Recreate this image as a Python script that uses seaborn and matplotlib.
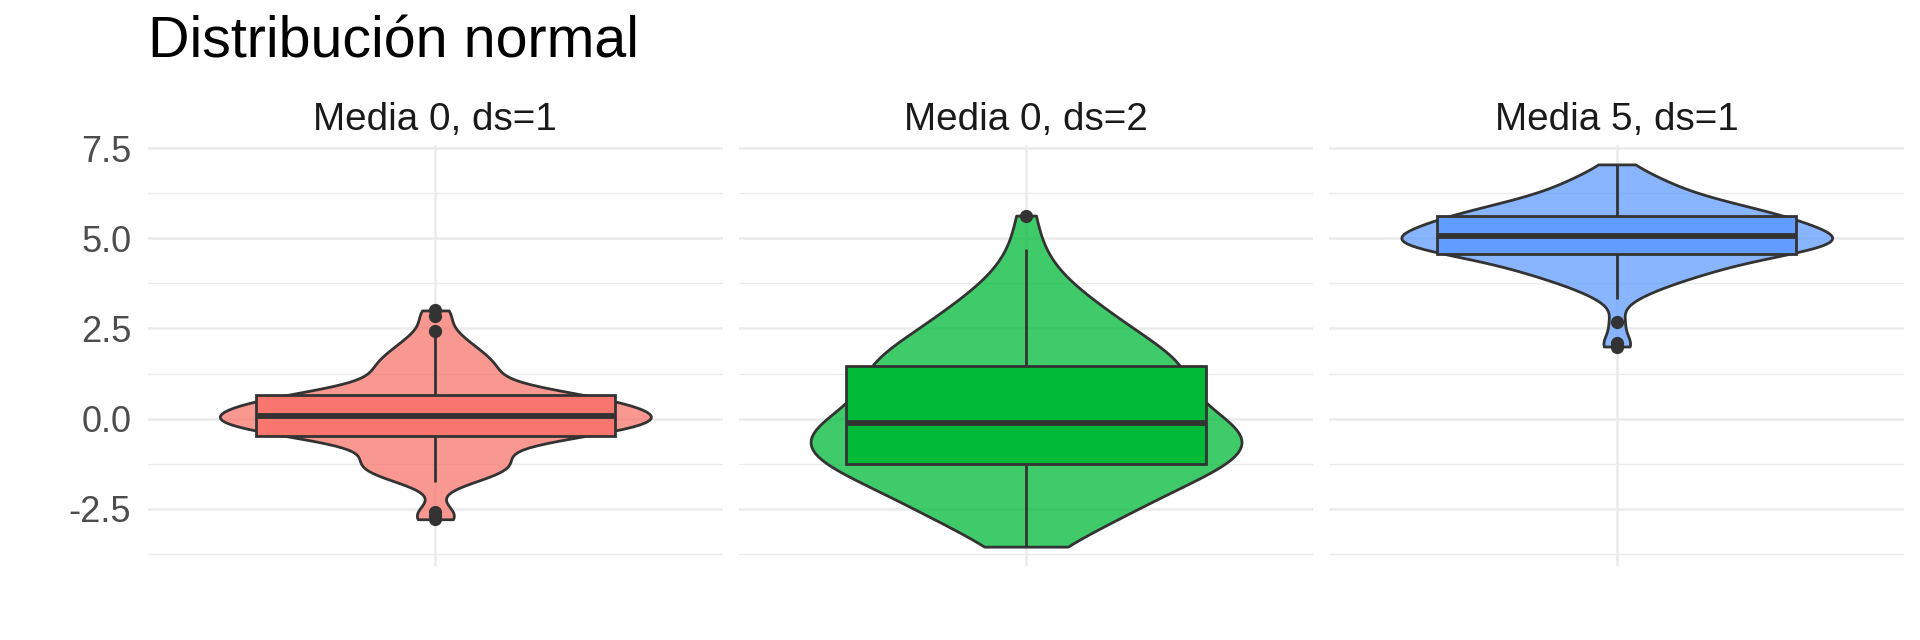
import numpy as np
import pandas as pd
import seaborn as sns
import matplotlib.pyplot as plt
from matplotlib.colors import to_rgba


grupos = ['Media 0, ds=1', 'Media 0, ds=2', 'Media 5, ds=1']
colores = ['#F8766D', '#00BA38', '#619CFF']

# valores leidos (aprox.) de la figura original, 100 por grupo
media0_ds1 = [-2.79, -2.70, -2.60, -1.77, -1.68, -1.60, -1.52, -1.45, -1.42, -1.38,
              -1.31, -1.24, -1.20, -1.16, -1.07, -1.02, -0.97, -0.86, -0.75, -0.66,
              -0.60, -0.56, -0.53, -0.51, -0.50,
              -0.46, -0.44, -0.41, -0.39, -0.36, -0.34, -0.31, -0.29, -0.26, -0.24,
              -0.21, -0.19, -0.16, -0.14, -0.12, -0.10, -0.08, -0.06, -0.04, -0.02,
              -0.01, 0.01, 0.02, 0.03, 0.05,
              0.07, 0.09, 0.11, 0.13, 0.15, 0.18, 0.20, 0.22, 0.25, 0.27,
              0.30, 0.32, 0.35, 0.37, 0.40, 0.42, 0.45, 0.47, 0.50, 0.52,
              0.54, 0.56, 0.58, 0.61, 0.64,
              0.66, 0.68, 0.70, 0.73, 0.77, 0.83, 0.92, 1.03, 1.10, 1.14,
              1.24, 1.32, 1.39, 1.46, 1.53, 1.60, 1.68, 1.77, 1.87, 1.98,
              2.10, 2.25, 2.44, 2.85, 3.00]

media0_ds2 = [-3.55, -3.33, -3.12, -2.95, -2.82, -2.70, -2.62, -2.58, -2.47, -2.37,
              -2.27, -2.17, -2.08, -1.99, -1.92, -1.84, -1.77, -1.70, -1.64, -1.58,
              -1.52, -1.46, -1.41, -1.36, -1.31,
              -1.25, -1.20, -1.15, -1.11, -1.06, -1.02, -0.97, -0.93, -0.88, -0.84,
              -0.79, -0.75, -0.70, -0.66, -0.61, -0.57, -0.52, -0.47, -0.43, -0.38,
              -0.33, -0.28, -0.24, -0.19, -0.15,
              -0.10, -0.06, -0.02, 0.03, 0.08, 0.14, 0.20, 0.27, 0.34, 0.42,
              0.50, 0.58, 0.66, 0.74, 0.82, 0.90, 0.98, 1.05, 1.12, 1.18,
              1.24, 1.30, 1.35, 1.40, 1.44,
              1.50, 1.56, 1.62, 1.69, 1.76, 1.84, 1.92, 2.00, 2.09, 2.18,
              2.28, 2.38, 2.48, 2.59, 2.70, 2.82, 2.94, 3.07, 3.21, 3.36,
              3.55, 3.80, 4.20, 4.69, 5.63]

media5_ds1 = [2.00, 2.10, 2.68, 3.31, 3.50, 3.63, 3.72, 3.80, 3.88, 3.93,
              3.98, 4.03, 4.08, 4.13, 4.18, 4.22, 4.26, 4.30, 4.34, 4.37,
              4.40, 4.43, 4.46, 4.50, 4.54,
              4.58, 4.60, 4.62, 4.64, 4.66, 4.68, 4.70, 4.72, 4.74, 4.76,
              4.78, 4.80, 4.82, 4.84, 4.86, 4.88, 4.90, 4.92, 4.94, 4.96,
              4.98, 5.00, 5.02, 5.03, 5.05,
              5.07, 5.09, 5.11, 5.13, 5.15, 5.17, 5.19, 5.21, 5.23, 5.25,
              5.28, 5.30, 5.32, 5.35, 5.37, 5.40, 5.42, 5.45, 5.47, 5.50,
              5.52, 5.55, 5.57, 5.59, 5.61,
              5.64, 5.67, 5.70, 5.72, 5.75, 5.78, 5.81, 5.84, 5.88, 5.92,
              5.96, 6.00, 6.04, 6.08, 6.12, 6.17, 6.23, 6.30, 6.37, 6.45,
              6.54, 6.60, 6.68, 6.85, 7.05]

y_ticks = [-2.5, 0.0, 2.5, 5.0, 7.5]
y_labels = ['-2.5', '0.0', '2.5', '5.0', '7.5']
y_minor = [-3.75, -1.25, 1.25, 3.75, 6.25]

df = pd.DataFrame({
    'grupo': np.repeat(grupos, [len(media0_ds1), len(media0_ds2), len(media5_ds1)]),
    'valor': media0_ds1 + media0_ds2 + media5_ds1,
})

sns.set_theme(style='white')
plt.rcParams['font.family'] = ['Liberation Sans', 'DejaVu Sans']

fig, axes = plt.subplots(1, 3, figsize=(19.2, 6.4), dpi=100, sharey=True)
fig.subplots_adjust(left=0.0771, right=0.9917, top=0.773, bottom=0.116, wspace=0.028)

lo, hi = df['valor'].min(), df['valor'].max()
pad = 0.05 * (hi - lo)

for ax, g, col in zip(axes, grupos, colores):
    sub = df[df['grupo'] == g]
    # ancho de banda tipo nrd0 de R
    sd = sub['valor'].std()
    iqr = sub['valor'].quantile(0.75) - sub['valor'].quantile(0.25)
    bw_adj = 0.9 * min(sd, iqr / 1.34) / sd

    sns.violinplot(data=sub, x='grupo', y='valor', order=[g], color=col, saturation=1,
                   inner=None, cut=0, density_norm='width', width=0.9,
                   bw_adjust=bw_adj, linewidth=2.0, linecolor='#333333', ax=ax)
    ax.collections[0].set_facecolor(to_rgba(col, 0.75))

    sns.boxplot(data=sub, x='grupo', y='valor', order=[g], color=col, saturation=1,
                width=0.75, linewidth=2.0, linecolor='#333333', showcaps=False,
                medianprops={'linewidth': 4.2, 'color': '#333333'},
                flierprops={'marker': 'o', 'markerfacecolor': '#333333',
                            'markeredgecolor': '#333333', 'markersize': 8.5},
                ax=ax)

    ax.set_xlim(-0.6, 0.6)
    ax.set_ylim(lo - pad, hi + pad)
    ax.set_yticks(y_ticks)
    ax.set_yticklabels(y_labels)
    ax.set_yticks(y_minor, minor=True)
    ax.grid(which='major', color='#EBEBEB', linewidth=1.8)
    ax.grid(which='minor', axis='y', color='#EBEBEB', linewidth=1.0)
    ax.set_axisbelow(True)
    ax.tick_params(axis='x', labelbottom=False, length=0)
    ax.tick_params(axis='y', which='both', length=0, pad=12, labelsize=26, labelcolor='#4D4D4D')
    ax.set_xlabel('')
    ax.set_ylabel('')
    for s in ax.spines.values():
        s.set_visible(False)
    ax.set_title(g, fontsize=27.8, color='#1A1A1A', pad=11)

fig.text(0.0771, 0.91, 'Distribución normal', fontsize=41.3, color='black',
         ha='left', va='baseline')

plt.savefig('out.png', dpi=100)
